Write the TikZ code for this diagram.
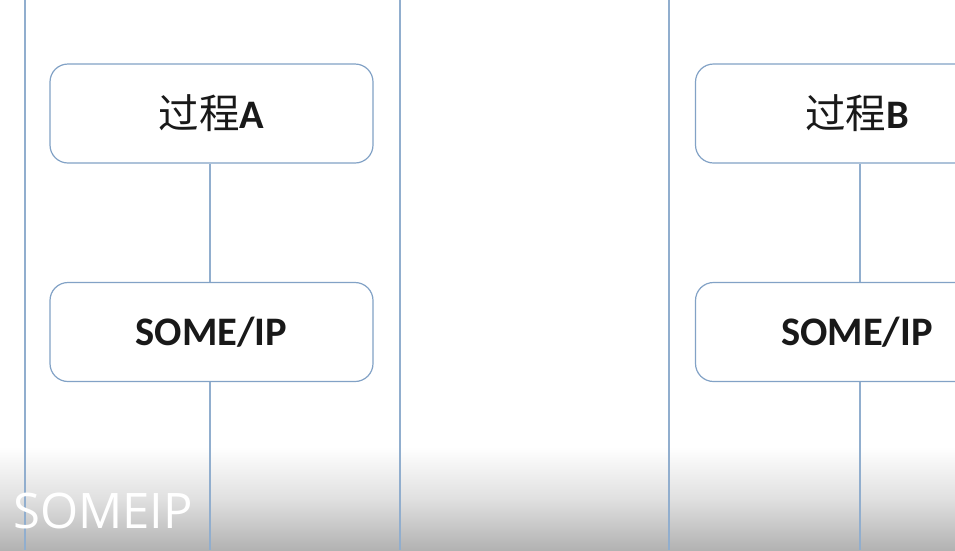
\documentclass[tikz,border=0pt]{standalone}
\usepackage{fontspec}
\setmainfont{Carlito}
\newfontfamily\cjk{Noto Sans CJK SC}
\newfontfamily\capfont{Open Sans}
\definecolor{lane}{RGB}{145,174,206}
\definecolor{boxline}{RGB}{130,162,198}
\definecolor{fadegray}{RGB}{178,178,178}
\definecolor{ink}{RGB}{25,25,25}
\tikzset{
  procbox/.style={draw=boxline, line width=1.2pt, rounded corners=18pt, fill=white,
    minimum width=323pt, minimum height=99pt, inner sep=0pt, text=ink,
    font=\fontsize{40.5}{44}\selectfont},
  laneline/.style={draw=lane, line width=1.3pt},
  link/.style={draw=lane, line width=1.3pt}
}
\begin{document}
\begin{tikzpicture}[x=1pt,y=-1pt]
\useasboundingbox (0,0) rectangle (955,550);
\clip (0,0) rectangle (955,550);
\fill[white] (0,0) rectangle (955,550);
\shade[top color=white, bottom color=fadegray, middle color=black!12] (0,447) rectangle (955,550);
% lane lines
\coordinate (l1t) at (25,0);   \coordinate (l1b) at (25,550);
\coordinate (l2t) at (400,0);  \coordinate (l2b) at (400,550);
\coordinate (l3t) at (669,0);  \coordinate (l3b) at (669,550);
\draw[laneline] (l1t) -- (l1b);
\draw[laneline] (l2t) -- (l2b);
\draw[laneline] (l3t) -- (l3b);
% boxes
\node[procbox] (pa) at (211.5,113.5) {{\cjk 过程}\textbf{A}};
\node[procbox] (sa) at (211.5,332) {\textbf{SOME/IP}};
\node[procbox] (pb) at (857,113.5) {{\cjk 过程}\textbf{B}};
\node[procbox] (sb) at (857,332) {\textbf{SOME/IP}};
\coordinate (ea) at (sa.south |- 0,550);
\coordinate (eb) at (sb.south |- 0,550);
\draw[link] ([xshift=-1.5pt]pa.south) -- ([xshift=-1.5pt]sa.north);
\draw[link] ([xshift=-1.5pt]sa.south) -- ([xshift=-1.5pt]ea);
\draw[link] ([xshift=3pt]pb.south) -- ([xshift=3pt]sb.north);
\draw[link] ([xshift=3pt]sb.south) -- ([xshift=3pt]eb);
% caption
\node[anchor=base west, inner sep=0pt, text=white, font=\capfont\fontsize{49}{52}\selectfont] (cap) at (13,528) {SOMEIP};
\end{tikzpicture}
\end{document}
